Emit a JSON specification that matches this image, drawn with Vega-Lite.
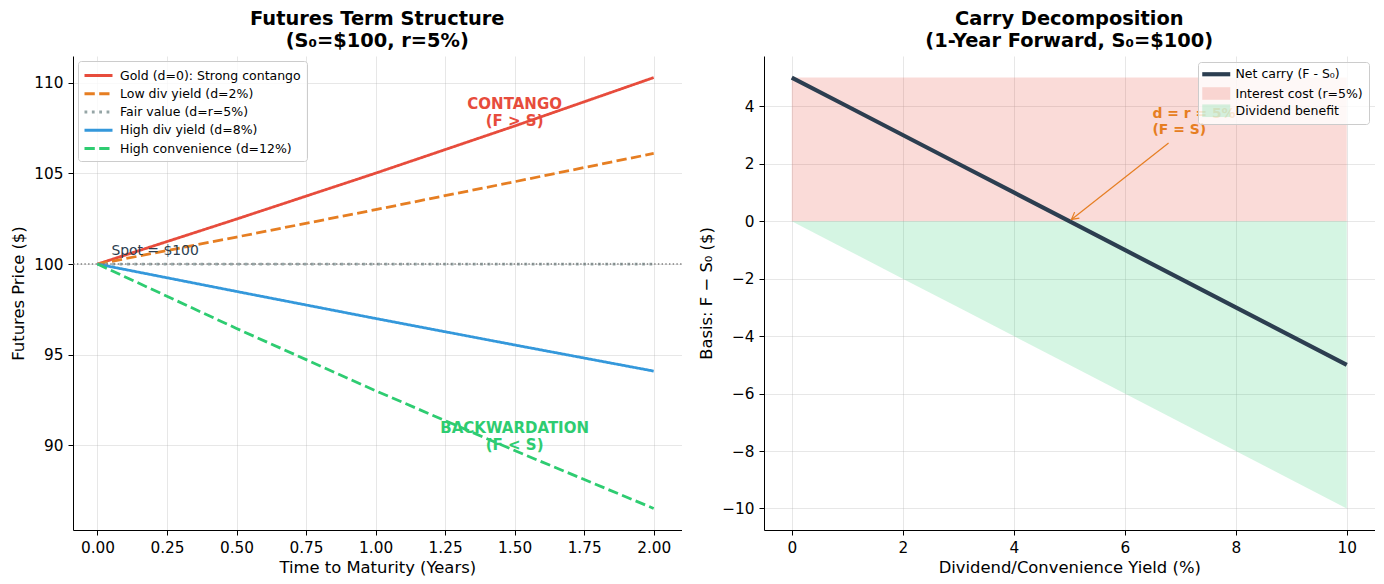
{
  "$schema": "https://vega.github.io/schema/vega-lite/v6.json",
  "padding": {"left": 10, "top": 8, "right": 9, "bottom": 5},
  "background": "white",
  "config": {
    "font": "DejaVu Sans",
    "view": {"stroke": null},
    "axis": {
      "domainColor": "black", "domainWidth": 1,
      "tickColor": "black", "tickSize": 5, "tickWidth": 1,
      "labelFont": "DejaVu Sans", "labelFontSize": 15.3, "labelColor": "black", "labelPadding": 5,
      "titleFont": "DejaVu Sans", "titleFontSize": 16.4, "titleFontWeight": "normal", "titleColor": "black", "titlePadding": 7,
      "gridColor": "#b0b0b0", "gridOpacity": 0.3, "gridWidth": 1
    },
    "axisX": {"titlePadding": 4},
    "title": {"font": "DejaVu Sans", "fontSize": 19.4, "fontWeight": "bold", "color": "black", "lineHeight": 22, "offset": 5, "anchor": "middle"},
    "concat": {"spacing": 15}
  },
  "datasets": {
    "term": [
      {"series": "Gold (d=0): Strong contango", "T": 0, "F": 100},
      {"series": "Gold (d=0): Strong contango", "T": 0.5, "F": 102.48},
      {"series": "Gold (d=0): Strong contango", "T": 1, "F": 105.01},
      {"series": "Gold (d=0): Strong contango", "T": 1.5, "F": 107.61},
      {"series": "Gold (d=0): Strong contango", "T": 2, "F": 110.28},
      {"series": "Low div yield (d=2%)", "T": 0, "F": 100},
      {"series": "Low div yield (d=2%)", "T": 0.5, "F": 101.49},
      {"series": "Low div yield (d=2%)", "T": 1, "F": 103.0},
      {"series": "Low div yield (d=2%)", "T": 1.5, "F": 104.54},
      {"series": "Low div yield (d=2%)", "T": 2, "F": 106.1},
      {"series": "Fair value (d=r=5%)", "T": 0, "F": 100},
      {"series": "Fair value (d=r=5%)", "T": 1, "F": 100},
      {"series": "Fair value (d=r=5%)", "T": 2, "F": 100},
      {"series": "High div yield (d=8%)", "T": 0, "F": 100},
      {"series": "High div yield (d=8%)", "T": 0.5, "F": 98.49},
      {"series": "High div yield (d=8%)", "T": 1, "F": 97.0},
      {"series": "High div yield (d=8%)", "T": 1.5, "F": 95.54},
      {"series": "High div yield (d=8%)", "T": 2, "F": 94.1},
      {"series": "High convenience (d=12%)", "T": 0, "F": 100},
      {"series": "High convenience (d=12%)", "T": 0.5, "F": 96.45},
      {"series": "High convenience (d=12%)", "T": 1, "F": 93.02},
      {"series": "High convenience (d=12%)", "T": 1.5, "F": 89.72},
      {"series": "High convenience (d=12%)", "T": 2, "F": 86.53}
    ],
    "carry": [
      {"d": 0, "net": 5, "interest": 5, "div": 0},
      {"d": 1, "net": 4, "interest": 5, "div": -1},
      {"d": 2, "net": 3, "interest": 5, "div": -2},
      {"d": 3, "net": 2, "interest": 5, "div": -3},
      {"d": 4, "net": 1, "interest": 5, "div": -4},
      {"d": 5, "net": 0, "interest": 5, "div": -5},
      {"d": 6, "net": -1, "interest": 5, "div": -6},
      {"d": 7, "net": -2, "interest": 5, "div": -7},
      {"d": 8, "net": -3, "interest": 5, "div": -8},
      {"d": 9, "net": -4, "interest": 5, "div": -9},
      {"d": 10, "net": -5, "interest": 5, "div": -10}
    ]
  },
  "hconcat": [
    {
      "width": 608.5,
      "height": 474,
      "title": {"text": ["Futures Term Structure", "(S₀=$100, r=5%)"]},
      "layer": [
        {
          "data": {"name": "term"},
          "mark": {"type": "line", "strokeWidth": 2.78},
          "encoding": {
            "x": {"field": "T", "type": "quantitative", "scale": {"domain": [-0.088, 2.1], "nice": false, "zero": false},
                  "axis": {"title": "Time to Maturity (Years)", "values": [0, 0.25, 0.5, 0.75, 1, 1.25, 1.5, 1.75, 2], "format": ".2f"}},
            "y": {"field": "F", "type": "quantitative", "scale": {"domain": [85.34, 111.47], "nice": false, "zero": false},
                  "axis": {"title": "Futures Price ($)", "values": [90, 95, 100, 105, 110]}},
            "color": {"field": "series", "type": "nominal",
                      "scale": {"domain": ["Gold (d=0): Strong contango", "Low div yield (d=2%)", "Fair value (d=r=5%)", "High div yield (d=8%)", "High convenience (d=12%)"],
                                "range": ["#e74c3c", "#e67e22", "#95a5a6", "#3498db", "#2ecc71"]},
                      "legend": {"title": null, "orient": "top-left", "offset": 5, "symbolType": "M-2,0H2", "symbolSize": 196, "symbolStrokeWidth": 2.78,
                                 "labelFontSize": 12.5, "labelFont": "DejaVu Sans", "labelColor": "black", "padding": 6,
                                 "fillColor": "rgba(255,255,255,0.8)", "strokeColor": "#cccccc", "cornerRadius": 3, "rowPadding": 3.25,
                                 "symbolOffset": 6, "labelOffset": 13, "labelLimit": 400}},
            "strokeDash": {"field": "series", "type": "nominal",
                      "scale": {"domain": ["Gold (d=0): Strong contango", "Low div yield (d=2%)", "Fair value (d=r=5%)", "High div yield (d=8%)", "High convenience (d=12%)"],
                                "range": [[1, 0], [10.3, 4.4], [2.78, 4.58], [1, 0], [10.3, 4.4]]},
                      "legend": {"title": null, "orient": "top-left", "offset": 5, "symbolType": "M-2,0H2", "symbolSize": 196, "symbolStrokeWidth": 2.78,
                                 "labelFontSize": 12.5, "labelFont": "DejaVu Sans", "labelColor": "black", "padding": 6,
                                 "fillColor": "rgba(255,255,255,0.8)", "strokeColor": "#cccccc", "cornerRadius": 3, "rowPadding": 3.25,
                                 "symbolOffset": 6, "labelOffset": 13, "labelLimit": 400}}
          }
        },
        {
          "data": {"values": [{"spot": 100}]},
          "mark": {"type": "rule", "color": "#7f7f7f", "strokeWidth": 1.4, "strokeDash": [1.4, 2.3]},
          "encoding": {"y": {"field": "spot", "type": "quantitative"}}
        },
        {
          "data": {"values": [{"T": 0.05, "F": 100.5, "label": "Spot = $100"}]},
          "mark": {"type": "text", "align": "left", "baseline": "alphabetic", "fontSize": 13.9, "color": "#2c3e50"},
          "encoding": {"x": {"field": "T", "type": "quantitative"}, "y": {"field": "F", "type": "quantitative"}, "text": {"field": "label"}}
        },
        {
          "data": {"values": [{"T": 1.5, "F": 108.83, "label": "CONTANGO\n(F > S)"}]},
          "mark": {"type": "text", "align": "center", "baseline": "middle", "fontSize": 15, "fontWeight": "bold", "color": "#e74c3c", "lineBreak": "\n", "lineHeight": 17},
          "encoding": {"x": {"field": "T", "type": "quantitative"}, "y": {"field": "F", "type": "quantitative"}, "text": {"field": "label"}}
        },
        {
          "data": {"values": [{"T": 1.5, "F": 90.98, "label": "BACKWARDATION\n(F < S)"}]},
          "mark": {"type": "text", "align": "center", "baseline": "middle", "fontSize": 15, "fontWeight": "bold", "color": "#2ecc71", "lineBreak": "\n", "lineHeight": 17},
          "encoding": {"x": {"field": "T", "type": "quantitative"}, "y": {"field": "F", "type": "quantitative"}, "text": {"field": "label"}}
        }
      ]
    },
    {
      "width": 610.5,
      "height": 474,
      "title": {"text": ["Carry Decomposition", "(1-Year Forward, S₀=$100)"]},
      "layer": [
        {
          "data": {"name": "carry"},
          "mark": {"type": "area", "opacity": 0.2},
          "encoding": {
            "x": {"field": "d", "type": "quantitative", "scale": {"domain": [-0.5, 10.5], "nice": false, "zero": false},
                  "axis": {"title": "Dividend/Convenience Yield (%)", "values": [0, 2, 4, 6, 8, 10], "format": "d"}},
            "y": {"field": "interest", "type": "quantitative", "scale": {"domain": [-10.75, 5.75], "nice": false, "zero": false},
                  "axis": {"title": "Basis: F − S₀ ($)", "values": [-10, -8, -6, -4, -2, 0, 2, 4]}},
            "y2": {"datum": 0},
            "color": {"datum": "Interest cost (r=5%)", "type": "nominal",
                      "scale": {"domain": ["Net carry (F - S₀)", "Interest cost (r=5%)", "Dividend benefit"], "range": ["#2c3e50", "#e74c3c", "#2ecc71"]},
                      "legend": {"title": null, "orient": "top-right", "offset": 6, "symbolSize": 196,
                                 "labelFontSize": 12.5, "labelFont": "DejaVu Sans", "labelColor": "black", "padding": 6,
                                 "fillColor": "rgba(255,255,255,0.8)", "strokeColor": "#cccccc", "cornerRadius": 3, "rowPadding": 3.25,
                                 "symbolOffset": 6, "labelOffset": 13, "labelLimit": 400,
                                 "symbolType": {"expr": "datum.value === 'Net carry (F - S₀)' ? 'M-2,0H2' : 'M-2,-0.9H2V0.9H-2Z'"},
                                 "symbolOpacity": {"expr": "datum.value === 'Net carry (F - S₀)' ? 1 : 0.2"},
                                 "symbolStrokeColor": {"expr": "datum.value === 'Net carry (F - S₀)' ? '#2c3e50' : 'transparent'"},
                                 "symbolStrokeWidth": {"expr": "datum.value === 'Net carry (F - S₀)' ? 4.17 : 0"}}
            }
          }
        },
        {
          "data": {"name": "carry"},
          "mark": {"type": "area", "opacity": 0.2},
          "encoding": {
            "x": {"field": "d", "type": "quantitative"},
            "y": {"field": "div", "type": "quantitative"},
            "y2": {"datum": 0},
            "color": {"datum": "Dividend benefit", "type": "nominal",
                      "legend": {"title": null, "orient": "top-right", "offset": 6, "symbolSize": 196,
                                 "labelFontSize": 12.5, "labelFont": "DejaVu Sans", "labelColor": "black", "padding": 6,
                                 "fillColor": "rgba(255,255,255,0.8)", "strokeColor": "#cccccc", "cornerRadius": 3, "rowPadding": 3.25,
                                 "symbolOffset": 6, "labelOffset": 13, "labelLimit": 400,
                                 "symbolType": {"expr": "datum.value === 'Net carry (F - S₀)' ? 'M-2,0H2' : 'M-2,-0.9H2V0.9H-2Z'"},
                                 "symbolOpacity": {"expr": "datum.value === 'Net carry (F - S₀)' ? 1 : 0.2"},
                                 "symbolStrokeColor": {"expr": "datum.value === 'Net carry (F - S₀)' ? '#2c3e50' : 'transparent'"},
                                 "symbolStrokeWidth": {"expr": "datum.value === 'Net carry (F - S₀)' ? 4.17 : 0"}}}
          }
        },
        {
          "mark": {"type": "rule", "color": "#555555", "strokeWidth": 1.2, "opacity": 0.85},
          "encoding": {"y": {"datum": 0}}
        },
        {
          "mark": {"type": "rule", "color": "#e67e22", "strokeWidth": 2.78, "opacity": 0.7, "strokeDash": [2.78, 4.58]},
          "encoding": {"x": {"datum": 5}}
        },
        {
          "data": {"name": "carry"},
          "mark": {"type": "line", "strokeWidth": 4.17},
          "encoding": {
            "x": {"field": "d", "type": "quantitative"},
            "y": {"field": "net", "type": "quantitative"},
            "color": {"datum": "Net carry (F - S₀)", "type": "nominal",
                      "legend": {"title": null, "orient": "top-right", "offset": 6, "symbolSize": 196,
                                 "labelFontSize": 12.5, "labelFont": "DejaVu Sans", "labelColor": "black", "padding": 6,
                                 "fillColor": "rgba(255,255,255,0.8)", "strokeColor": "#cccccc", "cornerRadius": 3, "rowPadding": 3.25,
                                 "symbolOffset": 6, "labelOffset": 13, "labelLimit": 400,
                                 "symbolType": {"expr": "datum.value === 'Net carry (F - S₀)' ? 'M-2,0H2' : 'M-2,-0.9H2V0.9H-2Z'"},
                                 "symbolOpacity": {"expr": "datum.value === 'Net carry (F - S₀)' ? 1 : 0.2"},
                                 "symbolStrokeColor": {"expr": "datum.value === 'Net carry (F - S₀)' ? '#2c3e50' : 'transparent'"},
                                 "symbolStrokeWidth": {"expr": "datum.value === 'Net carry (F - S₀)' ? 4.17 : 0"}}}
          }
        },
        {
          "data": {"values": [{"x1": 6.79, "y1": 2.72, "x2": 5.04, "y2": 0.06}]},
          "mark": {"type": "rule", "color": "#e67e22", "strokeWidth": 1.2},
          "encoding": {
            "x": {"field": "x1", "type": "quantitative"}, "y": {"field": "y1", "type": "quantitative"},
            "x2": {"field": "x2"}, "y2": {"field": "y2"}
          }
        },
        {
          "data": {"values": [{"x": 5.04, "y": 0.06}]},
          "mark": {"type": "point", "shape": "M-0.55,1L0,0L0.55,1", "size": 196, "angle": 232, "filled": false, "color": "#e67e22", "strokeWidth": 1.2, "opacity": 1},
          "encoding": {"x": {"field": "x", "type": "quantitative"}, "y": {"field": "y", "type": "quantitative"}}
        },
        {
          "data": {"values": [{"x": 6.5, "y": 3.72, "label": "d = r = 5%\n(F = S)"}]},
          "mark": {"type": "text", "align": "left", "baseline": "middle", "fontSize": 13.9, "fontWeight": "bold", "color": "#e67e22", "lineBreak": "\n", "lineHeight": 16},
          "encoding": {"x": {"field": "x", "type": "quantitative"}, "y": {"field": "y", "type": "quantitative"}, "text": {"field": "label"}}
        }
      ]
    }
  ],
  "resolve": {"scale": {"color": "independent", "strokeDash": "independent"}, "legend": {"color": "independent", "strokeDash": "independent"}}
}
